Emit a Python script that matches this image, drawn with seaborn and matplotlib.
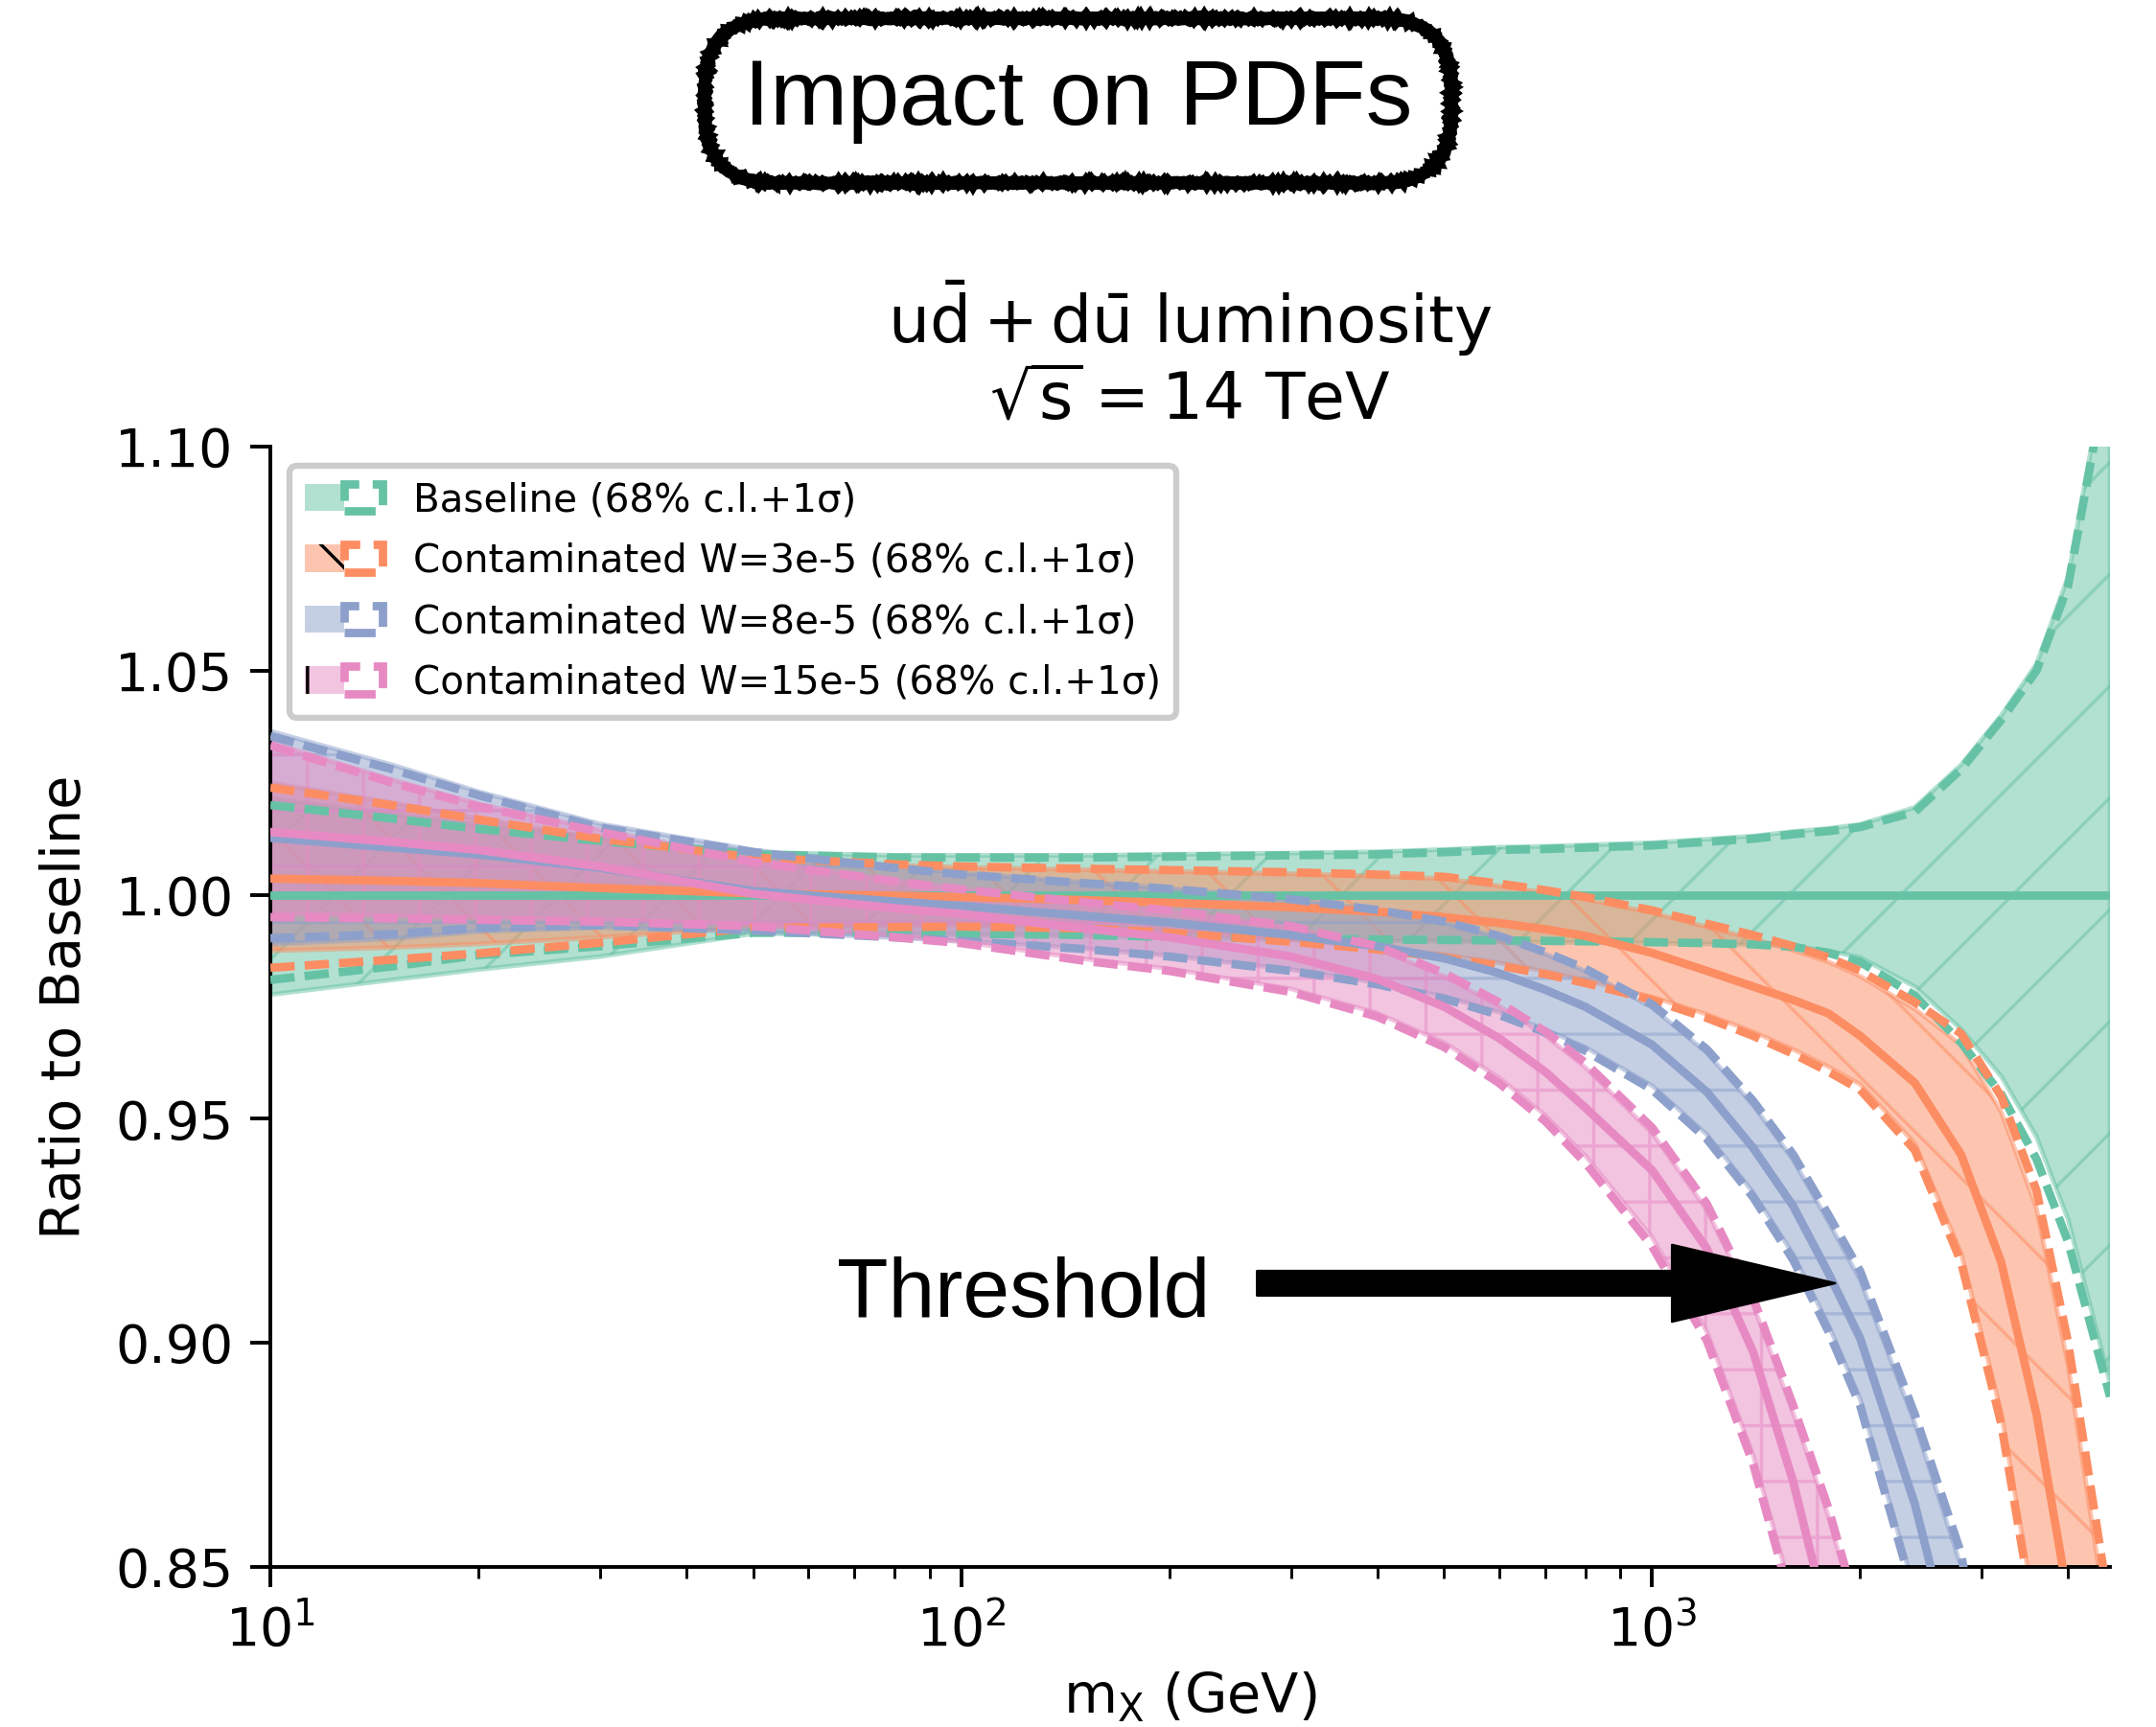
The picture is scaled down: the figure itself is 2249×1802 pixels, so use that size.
import matplotlib
matplotlib.use("Agg")
import matplotlib.pyplot as plt
import matplotlib.colors as mcolors
from matplotlib.patches import Patch
from matplotlib.legend_handler import HandlerTuple
from matplotlib.ticker import FormatStrFormatter
import seaborn as sns

# ---------------------------------------------------------------- data
# invariant mass grid (GeV)
mass = [10, 15, 20, 30, 50, 80, 100, 150, 200, 300, 400, 500, 600, 700, 800,
        1000, 1200, 1400, 1600, 1800, 2000, 2400, 2800, 3200, 3600, 4000, 4600]

# Baseline fit
base_center = [1.0] * 27
base_cl_hi = [1.0215, 1.0180, 1.0155, 1.0128, 1.0095, 1.0088, 1.0088, 1.0088, 1.0090,
              1.0093, 1.0096, 1.0101, 1.0106, 1.0108, 1.0111, 1.0116, 1.0124, 1.0131,
              1.0141, 1.0148, 1.0157, 1.0195, 1.0290, 1.0400, 1.0515, 1.0710, 1.1230]
base_cl_lo = [0.9777, 0.9810, 0.9833, 0.9862, 0.9913, 0.9913, 0.9911, 0.9908, 0.9904,
              0.9900, 0.9898, 0.9896, 0.9895, 0.9894, 0.9893, 0.9892, 0.9890, 0.9888,
              0.9885, 0.9875, 0.9860, 0.9795, 0.9700, 0.9595, 0.9460, 0.9275, 0.8910]
base_sd_hi = [1.0200, 1.0170, 1.0147, 1.0120, 1.0090, 1.0083, 1.0083, 1.0083, 1.0085,
              1.0088, 1.0090, 1.0095, 1.0100, 1.0102, 1.0105, 1.0110, 1.0118, 1.0125,
              1.0135, 1.0142, 1.0151, 1.0185, 1.0280, 1.0390, 1.0500, 1.0690, 1.1200]
base_sd_lo = [0.9810, 0.9840, 0.9865, 0.9885, 0.9915, 0.9915, 0.9913, 0.9910, 0.9906,
              0.9902, 0.9900, 0.9899, 0.9898, 0.9897, 0.9896, 0.9894, 0.9892, 0.9889,
              0.9884, 0.9870, 0.9850, 0.9775, 0.9670, 0.9555, 0.9410, 0.9225, 0.8880]

# Contaminated fit, W = 3e-5
w3_center = [1.0036, 1.0031, 1.0026, 1.0015, 1.0003, 0.9998, 0.9995, 0.9988, 0.9982,
             0.9972, 0.9962, 0.9950, 0.9937, 0.9923, 0.9908, 0.9870, 0.9830, 0.9795,
             0.9765, 0.9735, 0.9685, 0.9580, 0.9420, 0.9180, 0.8840, 0.8430, 0.7700]
w3_cl_hi = [1.0250, 1.0205, 1.0170, 1.0125, 1.0082, 1.0066, 1.0061, 1.0056, 1.0052,
            1.0047, 1.0042, 1.0036, 1.0020, 1.0005, 0.9990, 0.9960, 0.9928, 0.9902,
            0.9876, 0.9850, 0.9818, 0.9745, 0.9665, 0.9515, 0.9300, 0.8950, 0.8330]
w3_cl_lo = [0.9875, 0.9882, 0.9890, 0.9905, 0.9928, 0.9931, 0.9932, 0.9928, 0.9919,
            0.9900, 0.9883, 0.9866, 0.9848, 0.9829, 0.9809, 0.9772, 0.9733, 0.9694,
            0.9655, 0.9616, 0.9577, 0.9445, 0.9200, 0.8845, 0.8380, 0.7840, 0.7050]
w3_sd_hi = [1.0239, 1.0200, 1.0168, 1.0125, 1.0083, 1.0068, 1.0063, 1.0058, 1.0055,
            1.0050, 1.0045, 1.0040, 1.0025, 1.0010, 0.9995, 0.9965, 0.9935, 0.9910,
            0.9885, 0.9860, 0.9830, 0.9760, 0.9690, 0.9550, 0.9340, 0.9000, 0.8400]
w3_sd_lo = [0.9837, 0.9855, 0.9869, 0.9893, 0.9926, 0.9928, 0.9929, 0.9925, 0.9915,
            0.9895, 0.9878, 0.9860, 0.9842, 0.9823, 0.9803, 0.9765, 0.9725, 0.9685,
            0.9645, 0.9605, 0.9565, 0.9430, 0.9180, 0.8820, 0.8350, 0.7800, 0.7000]

# Contaminated fit, W = 8e-5 (grid up to 3200 GeV)
w8_center = [1.0127, 1.0105, 1.0090, 1.0060, 1.0008, 0.9985, 0.9975, 0.9953, 0.9938,
             0.9910, 0.9885, 0.9858, 0.9825, 0.9788, 0.9750, 0.9665, 0.9560, 0.9435,
             0.9305, 0.9155, 0.9010, 0.8640, 0.8230, 0.7700]
w8_cl_hi = [1.0365, 1.0290, 1.0230, 1.0158, 1.0100, 1.0063, 1.0048, 1.0028, 1.0014,
            0.9990, 0.9965, 0.9938, 0.9905, 0.9868, 0.9830, 0.9748, 0.9647, 0.9530,
            0.9408, 0.9270, 0.9140, 0.8820, 0.8500, 0.7970]
w8_cl_lo = [0.9890, 0.9902, 0.9918, 0.9927, 0.9918, 0.9904, 0.9897, 0.9880, 0.9864,
            0.9833, 0.9804, 0.9773, 0.9738, 0.9700, 0.9660, 0.9574, 0.9465, 0.9336,
            0.9198, 0.9040, 0.8875, 0.8445, 0.7970, 0.7420]
w8_sd_hi = [1.0354, 1.0280, 1.0222, 1.0150, 1.0095, 1.0060, 1.0045, 1.0026, 1.0013,
            0.9990, 0.9966, 0.9940, 0.9908, 0.9872, 0.9835, 0.9755, 0.9655, 0.9540,
            0.9420, 0.9285, 0.9160, 0.8840, 0.8530, 0.8000]
w8_sd_lo = [0.9903, 0.9912, 0.9926, 0.9932, 0.9920, 0.9905, 0.9897, 0.9879, 0.9862,
            0.9830, 0.9800, 0.9768, 0.9732, 0.9693, 0.9652, 0.9565, 0.9455, 0.9325,
            0.9185, 0.9025, 0.8860, 0.8430, 0.7950, 0.7400]

# Contaminated fit, W = 15e-5 (grid up to 2400 GeV)
w15_center = [1.0140, 1.0118, 1.0100, 1.0063, 1.0002, 0.9970, 0.9957, 0.9925, 0.9905,
              0.9862, 0.9812, 0.9750, 0.9680, 0.9605, 0.9525, 0.9385, 0.9210, 0.8980,
              0.8690, 0.8370, 0.8020, 0.7200]
w15_cl_hi = [1.0340, 1.0257, 1.0203, 1.0145, 1.0077, 1.0032, 1.0013, 0.9983, 0.9964,
             0.9927, 0.9880, 0.9818, 0.9752, 0.9686, 0.9615, 0.9468, 0.9296, 0.9085,
             0.8843, 0.8612, 0.8360, 0.7780]
w15_cl_lo = [0.9958, 0.9953, 0.9949, 0.9944, 0.9933, 0.9908, 0.9895, 0.9857, 0.9835,
             0.9790, 0.9736, 0.9670, 0.9592, 0.9508, 0.9418, 0.9235, 0.9025, 0.8750,
             0.8430, 0.8080, 0.7700, 0.6800]
w15_sd_hi = [1.0333, 1.0250, 1.0197, 1.0140, 1.0073, 1.0030, 1.0012, 0.9983, 0.9965,
             0.9930, 0.9885, 0.9825, 0.9760, 0.9695, 0.9625, 0.9480, 0.9310, 0.9100,
             0.8860, 0.8630, 0.8380, 0.7800]
w15_sd_lo = [0.9950, 0.9947, 0.9944, 0.9940, 0.9930, 0.9905, 0.9892, 0.9853, 0.9830,
             0.9783, 0.9728, 0.9660, 0.9580, 0.9495, 0.9402, 0.9215, 0.9005, 0.8730,
             0.8405, 0.8050, 0.7670, 0.6750]

labels = ["Baseline (68% c.l.+1σ)",
          "Contaminated W=3e-5 (68% c.l.+1σ)",
          "Contaminated W=8e-5 (68% c.l.+1σ)",
          "Contaminated W=15e-5 (68% c.l.+1σ)"]
y_ticks = [0.85, 0.90, 0.95, 1.00, 1.05, 1.10]

# ---------------------------------------------------------------- style
sns.set_style("ticks", rc={
    "axes.edgecolor": "black", "axes.labelcolor": "black", "text.color": "black",
    "xtick.color": "black", "ytick.color": "black",
})
plt.rcParams["font.family"] = ["DejaVu Sans"]
plt.rcParams["hatch.linewidth"] = 0.7
plt.rcParams["mathtext.fontset"] = "dejavusans"

palette = sns.color_palette("Set2", 4)
hatches = ["/", "\\", "-", "+"]
dash = (0, (2.9, 1.2))

series = [
    (base_center, base_cl_lo, base_cl_hi, base_sd_lo, base_sd_hi),
    (w3_center, w3_cl_lo, w3_cl_hi, w3_sd_lo, w3_sd_hi),
    (w8_center, w8_cl_lo, w8_cl_hi, w8_sd_lo, w8_sd_hi),
    (w15_center, w15_cl_lo, w15_cl_hi, w15_sd_lo, w15_sd_hi),
]

DPI = 350
fig = plt.figure(figsize=(2249 / DPI, 1802 / DPI), dpi=DPI)
ax = fig.add_axes([0.1254, 0.0927, 0.8533, 0.6487])
ax.set_xscale("log")

for (center, cl_lo, cl_hi, sd_lo, sd_hi), color, hatch in zip(series, palette, hatches):
    m = mass[:len(center)]
    ax.fill_between(m, cl_lo, cl_hi, facecolor=color, edgecolor=color,
                    alpha=0.5, hatch=hatch, linewidth=1.0, zorder=2)
    sns.lineplot(x=m, y=center, ax=ax, color=color, linewidth=1.8,
                 estimator=None, sort=False, legend=False, zorder=3)
    for band in (sd_lo, sd_hi):
        sns.lineplot(x=m, y=band, ax=ax, color=color, linewidth=1.8,
                     linestyle=dash, estimator=None, sort=False, legend=False, zorder=3)

ax.set_xlim(10, 4600)
ax.set_ylim(0.85, 1.10)
ax.set_yticks(y_ticks)
ax.yaxis.set_major_formatter(FormatStrFormatter("%.2f"))
ax.tick_params(axis="both", which="major", direction="out", length=4.4, width=0.8,
               labelsize=11.4)
ax.tick_params(axis="x", which="minor", direction="out", length=2.5, width=0.6)
for side in ("left", "bottom"):
    ax.spines[side].set_linewidth(0.8)
sns.despine(ax=ax)

ax.set_xlabel(r"$\mathrm{m_X}$ (GeV)", fontsize=11.8, labelpad=3)
ax.set_ylabel("Ratio to Baseline", fontsize=11.8, labelpad=5)
ax.set_title(r"$\mathrm{u\bar{d} + d\bar{u}}$ luminosity" + "\n" +
             r"$\sqrt{\mathrm{s}} = 14$ TeV", fontsize=14, pad=6)

# legend: hatched patch with a dashed outline for each fit
handles = []
for color, hatch in zip(palette, hatches):
    face = Patch(facecolor=mcolors.to_rgba(color, 0.5), edgecolor="black",
                 hatch=hatch, linewidth=0)
    edge = Patch(facecolor="none", edgecolor=color, linestyle="--", linewidth=1.8)
    handles.append((face, edge))
leg = ax.legend(handles, labels, loc="upper left", fontsize=8.3, labelspacing=0.58,
                handler_map={tuple: HandlerTuple(ndivide=None, pad=0)},
                frameon=True, fancybox=True, framealpha=1.0, edgecolor="0.8")
leg.get_frame().set_linewidth(1.3)

# threshold marker
ax.text(66, 0.9058, "Threshold", fontsize=18, family="Liberation Sans",
        ha="left", va="baseline", zorder=6)
ax.annotate("", xy=(1840, 0.9133), xytext=(268, 0.9133),
            arrowprops=dict(facecolor="black", edgecolor="black", linewidth=0.5,
                            width=5.3, headwidth=16.5, headlength=35, shrink=0.0),
            zorder=6)

# headline in a hand-drawn frame
head = fig.text(0.5, 0.9417, "Impact on PDFs", fontsize=20, family="Liberation Sans",
                ha="center", va="center",
                bbox=dict(boxstyle="round,pad=0.42,rounding_size=0.75",
                          facecolor="white", edgecolor="black", linewidth=2.6))
head.get_bbox_patch().set_sketch_params(scale=0.9, length=1.5, randomness=1.5)

fig.savefig("out.png", dpi=DPI)
